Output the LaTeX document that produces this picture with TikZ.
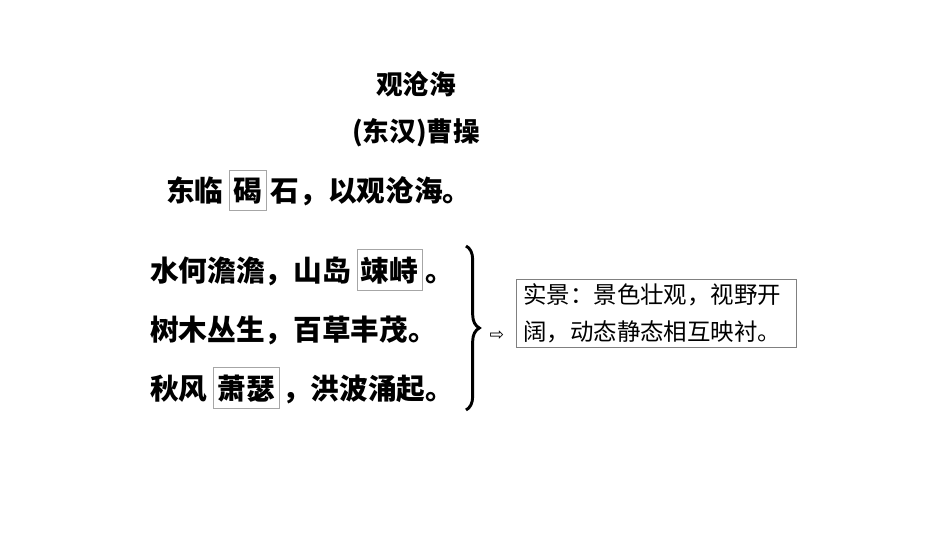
\documentclass[tikz,border=0pt]{standalone}
\usepackage{fontspec}
\newfontfamily\cjk{Noto Sans CJK SC}
\newfontfamily\djv{DejaVu Sans}
\usetikzlibrary{decorations.pathreplacing}
\begin{document}
\begin{tikzpicture}[x=0.75pt,y=-0.75pt,
  txt/.style={font=\cjk\bfseries\fontsize{21.5}{24}\selectfont,inner sep=0pt,anchor=base west},
  boxed/.style={txt,draw=black!35,line width=0.6pt,inner xsep=3pt,inner ysep=5pt}]
\useasboundingbox (0,0) rectangle (950,535);
\node[font=\cjk\bfseries\fontsize{20}{22}\selectfont] (t1) at (416,84) {观沧海};
\node[font=\cjk\bfseries\fontsize{20}{22}\selectfont] (t2) at (416,133) {(东汉)曹操};
% line 1
\node[txt] (a1) at (166,201) {东临};
\node[boxed] (a2) at ([xshift=4pt]a1.base east) {碣};
\node[txt] (a3) at ([xshift=3pt]a2.base east) {石，以观沧海。};
% line 2
\node[txt] (b1) at (150,281) {水何澹澹，山岛};
\node[boxed] (b2) at ([xshift=4pt]b1.base east) {竦峙};
\node[txt] (b3) at ([xshift=2pt]b2.base east) {。};
% line 3
\node[txt] (c1) at (150,340) {树木丛生，百草丰茂。};
% line 4
\node[txt] (d1) at (150,399) {秋风};
\node[boxed] (d2) at ([xshift=4pt]d1.base east) {萧瑟};
\node[txt] (d3) at ([xshift=2pt]d2.base east) {，洪波涌起。};
\coordinate (br1) at (466,246);
\coordinate (br2) at (466,410);
\draw[line width=2.2pt,decorate,decoration={brace,amplitude=10pt}] (br1) -- (br2);
\node[font=\djv\fontsize{13}{14}\selectfont] (arr) at (497,336) {⇨};
\node[draw=black!50,line width=0.7pt,anchor=north west,align=left,inner xsep=5pt,inner ysep=3pt,font=\cjk\fontsize{17.6}{28}\selectfont,text width=200pt] (box) at (516,279) {实景：景色壮观，视野开\\阔，动态静态相互映衬。};
\end{tikzpicture}
\end{document}
